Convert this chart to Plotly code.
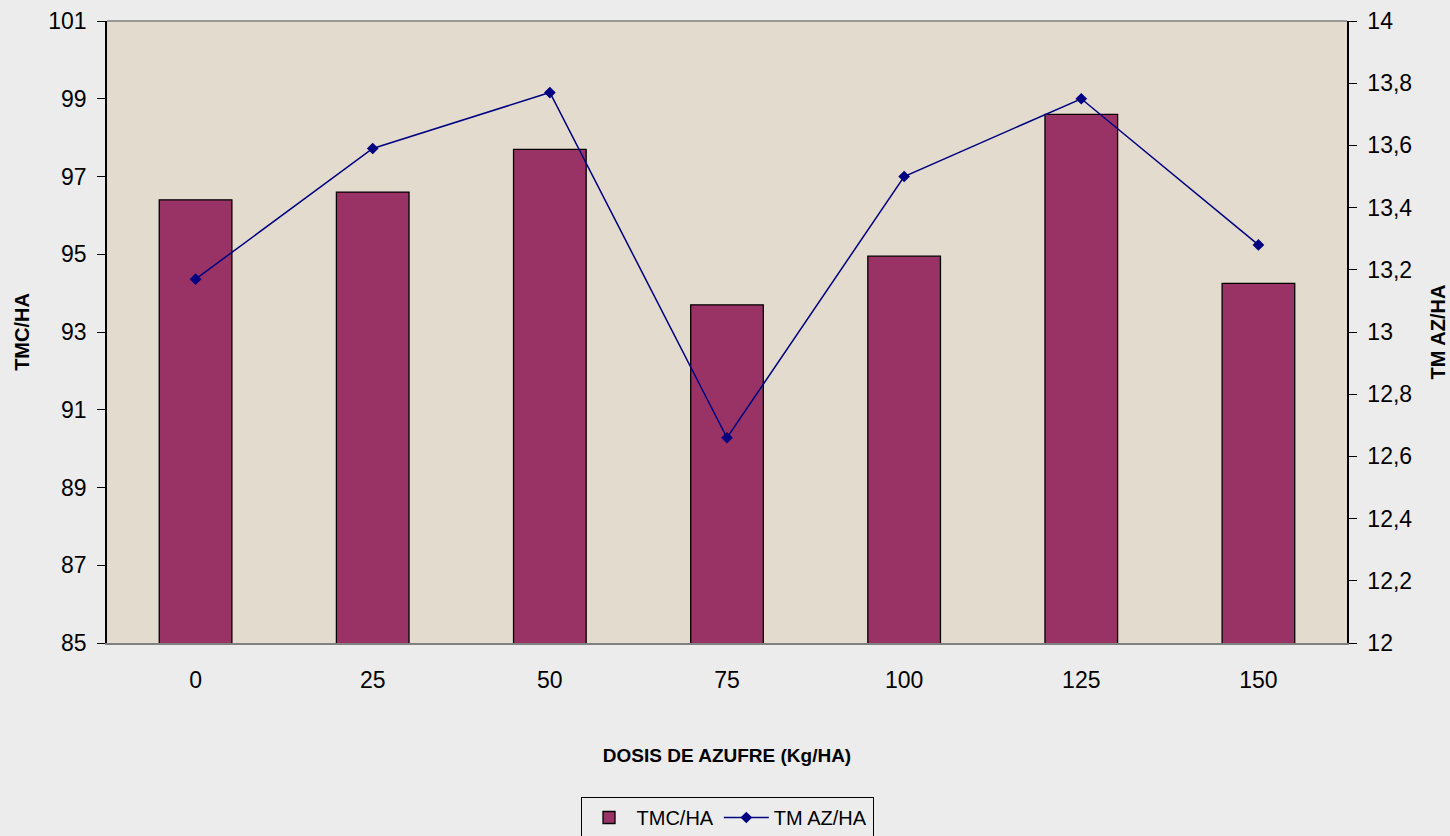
import plotly.graph_objects as go

categories = ["0", "25", "50", "75", "100", "125", "150"]
tmc_ha = [96.4, 96.6, 97.7, 93.7, 94.95, 98.6, 94.25]
tm_az_ha = [13.17, 13.59, 13.77, 12.66, 13.50, 13.75, 13.28]

fig = go.Figure()
fig.add_trace(go.Bar(
    x=categories, y=tmc_ha, name="TMC/HA",
    marker=dict(color="#993366", line=dict(color="#000000", width=1.3)),
    width=0.41,
))
fig.add_trace(go.Scatter(
    x=categories, y=tm_az_ha, name="TM AZ/HA", yaxis="y2",
    mode="lines+markers",
    line=dict(color="#000080", width=1.5),
    marker=dict(symbol="diamond", size=9, color="#000080"),
))

font_family = "Liberation Sans, Arial, sans-serif"
fig.update_layout(
    width=1450, height=836,
    margin=dict(l=107, r=103, t=21, b=193, autoexpand=False),
    paper_bgcolor="#ECECEC",
    plot_bgcolor="#E4DBCF",
    separators=",.",
    font=dict(family=font_family, size=22, color="#000000"),
    showlegend=True,
    legend=dict(
        orientation="h", x=0.5, xanchor="center", y=-0.2476, yanchor="top",
        bgcolor="#ECECEC", bordercolor="#000000", borderwidth=1,
        font=dict(size=20), itemwidth=45,
    ),
    xaxis=dict(
        type="category", showgrid=False, showline=True, linecolor="#808080",
        linewidth=1.5, ticks="", ticklabelstandoff=16,
        tickfont=dict(size=23),
        title=dict(text="<b>DOSIS DE AZUFRE (Kg/HA)</b>", font=dict(size=19), standoff=56),
        automargin=False,
    ),
    yaxis=dict(
        range=[85, 101], dtick=2, tick0=85, showgrid=False, zeroline=False,
        showline=True, linecolor="#000000", linewidth=1.5,
        ticks="outside", ticklen=8, tickcolor="#000000",
        tickfont=dict(size=23), automargin=False, ticklabelstandoff=6,
        title=dict(text="<b>TMC/HA</b>", font=dict(size=20), standoff=13),
    ),
    yaxis2=dict(
        range=[12, 14], dtick=0.2, tick0=12, overlaying="y", side="right",
        showgrid=False, zeroline=False,
        showline=True, linecolor="#000000", linewidth=1.5,
        ticks="outside", ticklen=8, tickcolor="#000000",
        tickfont=dict(size=23), automargin=False, ticklabelstandoff=6,
        title=dict(text="<b>TM AZ/HA</b>", font=dict(size=20), standoff=20),
    ),
)
# top border of plot area (gray line)
fig.add_shape(type="line", xref="paper", yref="paper", x0=0, x1=1, y0=1, y1=1,
              line=dict(color="#808080", width=1.5))

fig.write_html(
    "out.html",
    config={"displayModeBar": False},
    post_script="document.body.style.margin='0';document.body.style.background='#ECECEC';",
)
